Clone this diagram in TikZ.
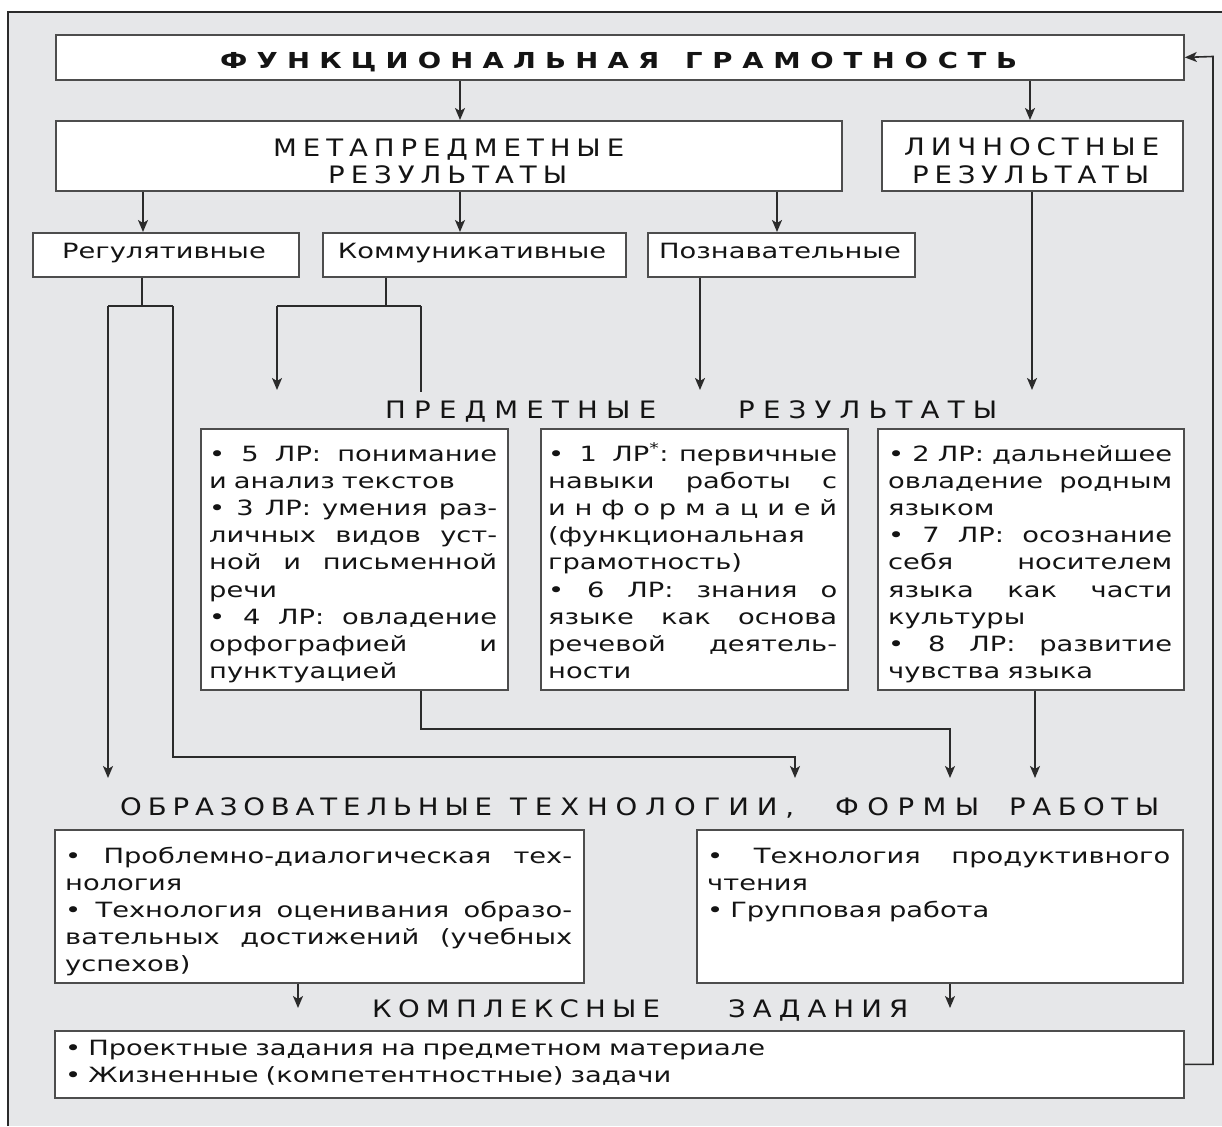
\documentclass[tikz,border=0pt]{standalone}
\usepackage{fontspec}
\usetikzlibrary{arrows.meta}
\setmainfont{DejaVu Sans}
\newfontfamily\bodyf{DejaVu Sans}[FakeStretch=1.3]
\newfontfamily\headf{DejaVu Sans}[FakeStretch=1.15]
\newfontfamily\titlef{DejaVu Sans}[FakeStretch=1.25]
\definecolor{bgc}{HTML}{E6E7E9}
\definecolor{boxc}{HTML}{4D4D4D}
\definecolor{linec}{HTML}{2B2B2B}
\definecolor{txtc}{HTML}{141414}
\setlength{\parindent}{0pt}
\newcommand\jl[1]{\makebox[\linewidth][s]{\spaceskip=0.32em plus 10em minus 0.05em\relax #1}\\}
\ExplSyntaxOn
\NewDocumentCommand\spreadw{mm}{\makebox[#1][s]{\skip_horizontal:n {0pt plus -1fil} \tl_map_inline:nn {#2} {\hfil ##1}}}
\ExplSyntaxOff
\tikzset{
  bx/.style={draw=boxc, fill=white, line width=1.8pt, inner sep=0pt, anchor=north west, rectangle},
  tx/.style={text=txtc, inner sep=0pt, anchor=base west, align=left, font=\bodyf\fontsize{21}{27.2}\selectfont},
  lb/.style={text=txtc, inner sep=0pt, anchor=base, font=\bodyf\fontsize{21}{27.2}\selectfont},
  hd/.style={text=txtc, inner sep=0pt, anchor=base west, font=\headf\fontsize{24}{28}\selectfont},
  ttl/.style={text=txtc, inner sep=0pt, anchor=base west, font=\titlef\bfseries\fontsize{22}{26}\selectfont},
  ar/.style={draw=linec, line width=1.6pt, -{Stealth[length=12pt,width=10pt,inset=3pt]}},
  ln/.style={draw=linec, line width=1.6pt},
}
\begin{document}
\begin{tikzpicture}[x=1pt,y=-1pt]
\useasboundingbox (0,0) rectangle (1222,1126);
\fill[white] (0,0) rectangle (1222,1126);
\fill[bgc] (8,12) rectangle (1222,1126);
\draw[linec, line width=1.5pt] (8,1126) -- (8,12) -- (1222,12);

% boxes
\node[bx, minimum width=1128, minimum height=45] (FG) at (55,34) {};
\node[bx, minimum width=786, minimum height=70] (META) at (55,120) {};
\node[bx, minimum width=301, minimum height=70] (LICH) at (881,120) {};
\node[bx, minimum width=266, minimum height=44] (REG) at (32,232) {};
\node[bx, minimum width=303, minimum height=44] (KOM) at (322,232) {};
\node[bx, minimum width=267, minimum height=44] (POZN) at (647,232) {};
\node[bx, minimum width=307, minimum height=261] (PL) at (200,428) {};
\node[bx, minimum width=307, minimum height=261] (PM) at (540,428) {};
\node[bx, minimum width=306, minimum height=261] (PR) at (877,428) {};
\node[bx, minimum width=529, minimum height=153] (TL) at (54,829) {};
\node[bx, minimum width=486, minimum height=153] (TR) at (696,829) {};
\node[bx, minimum width=1129, minimum height=67] (BOT) at (54,1030) {};

% headings
\node[ttl] (t1) at (220,69) {\spreadw{439pt}{ФУНКЦИОНАЛЬНАЯ}};
\node[ttl] (t2) at (685,69) {\spreadw{332pt}{ГРАМОТНОСТЬ}};
\node[hd] (m1) at (273,157) {\spreadw{351pt}{МЕТАПРЕДМЕТНЫЕ}};
\node[hd] (m2) at (328,183) {\spreadw{239pt}{РЕЗУЛЬТАТЫ}};
\node[hd] (l1) at (904,156) {\spreadw{255pt}{ЛИЧНОСТНЫЕ}};
\node[hd] (l2) at (912,183) {\spreadw{237pt}{РЕЗУЛЬТАТЫ}};
\node[hd] (p1) at (385,418) {\spreadw{271pt}{ПРЕДМЕТНЫЕ}};
\node[hd] (p2) at (738,418) {\spreadw{259pt}{РЕЗУЛЬТАТЫ}};
\node[hd] (o1) at (120,815) {\spreadw{372pt}{ОБРАЗОВАТЕЛЬНЫЕ}};
\node[hd] (o2) at (510,815) {\spreadw{284pt}{ТЕХНОЛОГИИ,}};
\node[hd] (o3) at (835,815) {\spreadw{144pt}{ФОРМЫ}};
\node[hd] (o4) at (1009,815) {\spreadw{150pt}{РАБОТЫ}};
\node[hd] (k1) at (372,1017) {\spreadw{288pt}{КОМПЛЕКСНЫЕ}};
\node[hd] (k2) at (728,1017) {\spreadw{180pt}{ЗАДАНИЯ}};

% small labels
\node[lb] (regt) at (164,258) {Регулятивные};
\node[lb] (komt) at (472,258) {Коммуникативные};
\node[lb] (pozt) at (780,258) {Познавательные};

% body texts
\node[tx, text width=288pt] (plt) at (209,461) {%
\jl{• 5 ЛР: понимание}
и анализ текстов\\
\jl{• 3 ЛР: умения раз-}
\jl{личных видов уст-}
\jl{ной и письменной}
речи\\
\jl{• 4 ЛР: овладение}
\jl{орфографией и}
пунктуацией};
\node[tx, text width=289pt] (pmt) at (548,461) {%
\jl{• 1 ЛР\textsuperscript{*}: первичные}
\jl{навыки работы с}
\spreadw{\linewidth}{информацией}\\
(функциональная\\
грамотность)\\
\jl{• 6 ЛР: знания о}
\jl{языке как основа}
\jl{речевой деятель-}
ности};
\node[tx, text width=284pt] (prt) at (888,461) {%
\jl{• 2 ЛР: дальнейшее}
\jl{овладение родным}
языком\\
\jl{• 7 ЛР: осознание}
\jl{себя носителем}
\jl{языка как части}
культуры\\
\jl{• 8 ЛР: развитие}
чувства языка};
\node[tx, text width=507pt] (tlt) at (65,863) {%
\jl{• Проблемно-диалогическая тех-}
нология\\
\jl{• Технология оценивания образо-}
\jl{вательных достижений (учебных}
успехов)};
\node[tx, text width=463pt] (trt) at (707,863) {%
\jl{• Технология продуктивного}
чтения\\
• Групповая работа};
\node[tx, text width=800pt] (bott) at (65,1055) {%
• Проектные задания на предметном материале\\
• Жизненные (компетентностные) задачи};

% junction coordinates
\coordinate (rj) at (142,306);
\coordinate (rjl) at (108,306);
\coordinate (rjr) at (173,306);
\coordinate (rjr2) at (173,757);
\coordinate (rjr3) at (795,757);
\coordinate (aReg1) at (108,778);
\coordinate (aReg2) at (795,778);
\coordinate (kj) at (386,306);
\coordinate (kjl) at (277,306);
\coordinate (kjr) at (421,306);
\coordinate (aKom) at (277,390);
\coordinate (eKom) at (421,392);
\coordinate (aPoz) at (700,390);
\coordinate (aLich) at (1032,390);
\coordinate (plj1) at (421,729);
\coordinate (plj2) at (950,729);
\coordinate (aPL) at (950,778);
\coordinate (aPR) at (1035,778);
\coordinate (aTL) at (298,1008);
\coordinate (aTR) at (950,1008);
\coordinate (fb) at (1213,56.5);

% connectors
\draw[ar] (FG.south -| 460,0) -- (META.north -| 460,0);
\draw[ar] (FG.south -| 1030,0) -- (LICH.north -| 1030,0);
\draw[ar] (META.south -| 143,0) -- (REG.north -| 143,0);
\draw[ar] (META.south -| 460,0) -- (KOM.north -| 460,0);
\draw[ar] (META.south -| 777,0) -- (POZN.north -| 777,0);
\draw[ln] (REG.south -| rj) -- (rj);
\draw[ln] (rjl) -- (rjr);
\draw[ar] (rjl) -- (aReg1);
\draw[ar] (rjr) -- (rjr2) -- (rjr3) -- (aReg2);
\draw[ln] (KOM.south -| kj) -- (kj);
\draw[ln] (kjl) -- (kjr);
\draw[ar] (kjl) -- (aKom);
\draw[ln] (kjr) -- (eKom);
\draw[ar] (POZN.south -| aPoz) -- (aPoz);
\draw[ar] (LICH.south -| aLich) -- (aLich);
\draw[ar] (PL.south -| plj1) -- (plj1) -- (plj2) -- (aPL);
\draw[ar] (PR.south -| aPR) -- (aPR);
\draw[ar] (TL.south -| aTL) -- (aTL);
\draw[ar] (TR.south -| aTR) -- (aTR);
\draw[ar] (BOT.east) -- (BOT.east -| fb) -- (fb) -- (FG.east);
\end{tikzpicture}
\end{document}
